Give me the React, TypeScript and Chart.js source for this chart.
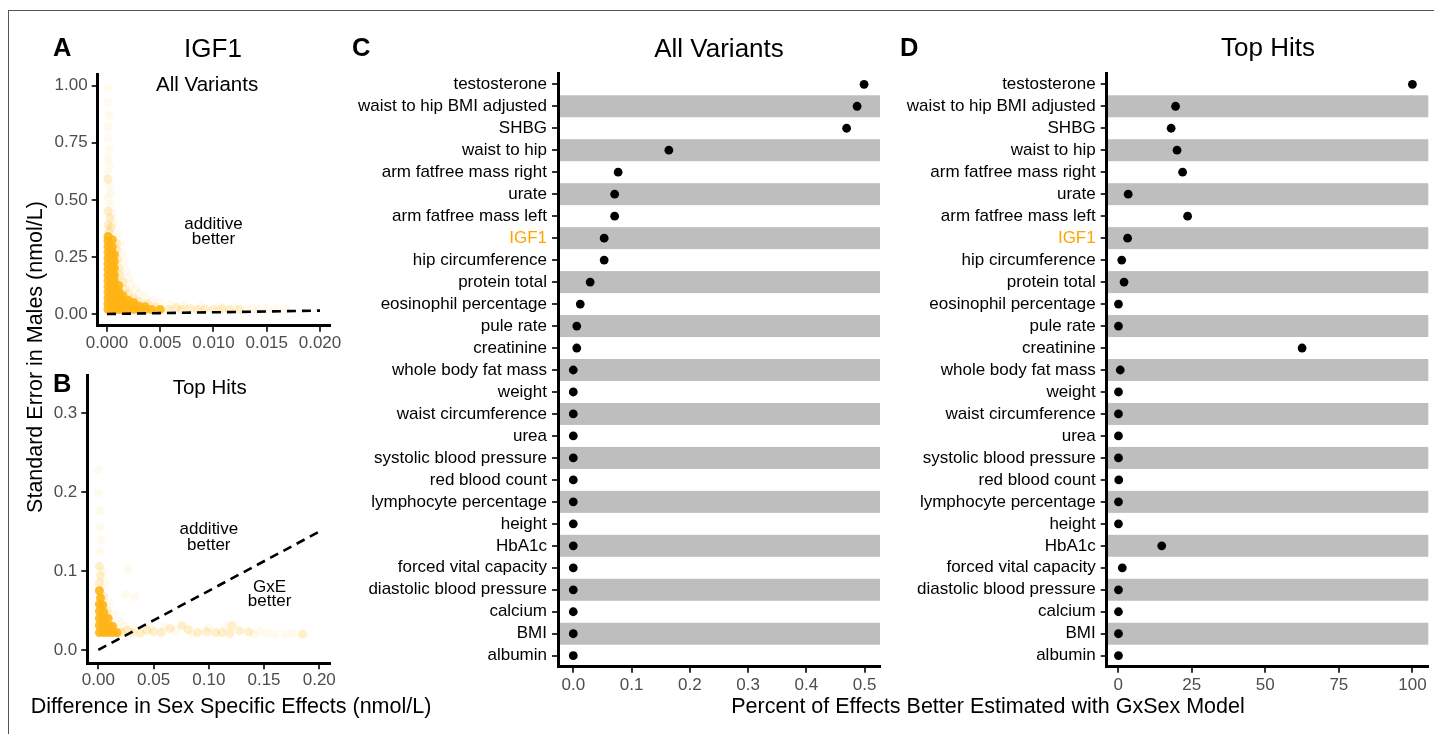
import React, { useEffect, useRef } from "react";
import { Chart, registerables } from "chart.js";
Chart.register(...registerables);

const FONT = '"Liberation Sans", Arial, Helvetica, sans-serif';
Chart.defaults.font.family = FONT;

type Pt = [number, number];

// ---------- Panel C / D data ----------
const TRAITS = [
  "testosterone", "waist to hip BMI adjusted", "SHBG", "waist to hip",
  "arm fatfree mass right", "urate", "arm fatfree mass left", "IGF1",
  "hip circumference", "protein total", "eosinophil percentage", "pule rate",
  "creatinine", "whole body fat mass", "weight", "waist circumference", "urea",
  "systolic blood pressure", "red blood count", "lymphocyte percentage", "height",
  "HbA1c", "forced vital capacity", "diastolic blood pressure", "calcium", "BMI", "albumin",
];
const ALL_VARIANTS_PCT = [
  0.499, 0.487, 0.469, 0.164, 0.077, 0.071, 0.071, 0.053, 0.053, 0.029, 0.012, 0.006,
  0.006, 0.0, 0.0, 0.0, 0.0, 0.0, 0.0, 0.0, 0.0, 0.0, 0.0, 0.0, 0.0, 0.0, 0.0,
];
const TOP_HITS_PCT = [
  100, 19.5, 18.0, 20.0, 21.9, 3.4, 23.6, 3.2, 1.2, 2.0, 0.1, 0.1,
  62.5, 0.7, 0.1, 0.1, 0.1, 0.1, 0.2, 0.1, 0.1, 14.8, 1.4, 0.1, 0.1, 0.1, 0.1,
];
const C_TICKS = [0, 0.1, 0.2, 0.3, 0.4, 0.5];
const C_TICK_LABELS = ["0.0", "0.1", "0.2", "0.3", "0.4", "0.5"];
const D_TICKS = [0, 25, 50, 75, 100];
const D_TICK_LABELS = ["0", "25", "50", "75", "100"];

// ---------- Panel A data (IGF1, all variants) ----------
const A_DENSE: Pt[] = [
  [0.0001, 0.02], [0.0001, 0.045], [0.0001, 0.07], [0.0001, 0.095], [0.0001, 0.12], [0.0001, 0.145],
  [0.0001, 0.17], [0.0001, 0.195], [0.0001, 0.22], [0.0001, 0.245], [0.0001, 0.27], [0.0001, 0.295],
  [0.0001, 0.32], [0.0001, 0.34],
  [0.0005, 0.02], [0.0005, 0.045], [0.0005, 0.07], [0.0005, 0.095], [0.0005, 0.12], [0.0005, 0.145],
  [0.0005, 0.17], [0.0005, 0.195], [0.0005, 0.22], [0.0005, 0.245], [0.0005, 0.27], [0.0005, 0.295],
  [0.0005, 0.325],
  [0.0007, 0.02], [0.0007, 0.045], [0.0007, 0.07], [0.0007, 0.095], [0.0007, 0.12], [0.0007, 0.145],
  [0.0007, 0.17], [0.0007, 0.2], [0.0007, 0.23], [0.0007, 0.26],
  [0.0011, 0.02], [0.0011, 0.04], [0.0011, 0.06], [0.0011, 0.08], [0.0011, 0.1], [0.0011, 0.125],
  [0.0015, 0.02], [0.0015, 0.04], [0.0015, 0.06], [0.0015, 0.08],
  [0.002, 0.02], [0.002, 0.04], [0.002, 0.06],
  [0.0025, 0.02], [0.0025, 0.035], [0.0025, 0.05],
  [0.003, 0.02], [0.003, 0.035],
  [0.0036, 0.02], [0.0036, 0.032],
  [0.0042, 0.02], [0.005, 0.02],
];
const A_MID: Pt[] = [
  [0.0058, 0.02], [0.0065, 0.028], [0.007, 0.02], [0.0078, 0.024], [0.0085, 0.02], [0.0092, 0.022],
  [0.01, 0.02], [0.0108, 0.023], [0.0115, 0.02], [0.0124, 0.021],
  [0.0045, 0.03], [0.0038, 0.045], [0.003, 0.055], [0.0025, 0.07], [0.002, 0.09], [0.0017, 0.11],
  [0.0015, 0.14], [0.0012, 0.17], [0.0011, 0.2], [0.001, 0.24], [0.0009, 0.28], [0.0009, 0.31],
  [0.0002, 0.36], [0.0004, 0.38], [0.0001, 0.39], [0.0003, 0.42], [0.0001, 0.45], [0.0001, 0.59],
];
const A_FAINT: Pt[] = [
  [0.013, 0.02], [0.0136, 0.026], [0.0142, 0.019], [0.015, 0.021], [0.0158, 0.023], [0.0168, 0.02],
  [0.012, 0.03], [0.0105, 0.032], [0.0088, 0.034], [0.0072, 0.037], [0.006, 0.042], [0.005, 0.05],
  [0.0043, 0.06], [0.0036, 0.075], [0.003, 0.09], [0.0027, 0.11], [0.0023, 0.13], [0.002, 0.16],
  [0.0018, 0.19], [0.0016, 0.23], [0.0014, 0.27], [0.0013, 0.31], [0.001, 0.35], [0.0006, 0.4],
  [0.0005, 0.44], [0.0003, 0.48], [0.0001, 0.51], [0.0004, 0.53], [0.0002, 0.56], [0.0001, 0.62],
  [0.0003, 0.65], [0.0001, 0.68], [0.0002, 0.72], [0.0001, 0.77], [0.0001, 0.82], [0.0002, 0.87],
  [0.0001, 0.93], [0.0001, 0.99],
];
const A_REF: Pt[] = [[0, 0], [0.02, 0.015]];
const A_X_TICKS = [0, 0.005, 0.01, 0.015, 0.02];
const A_X_LABELS = ["0.000", "0.005", "0.010", "0.015", "0.020"];
const A_Y_TICKS = [0, 0.25, 0.5, 0.75, 1];
const A_Y_LABELS = ["0.00", "0.25", "0.50", "0.75", "1.00"];

// ---------- Panel B data (IGF1, top hits) ----------
const B_DENSE: Pt[] = [
  [0.001, 0.022], [0.001, 0.031], [0.001, 0.04], [0.001, 0.049],
  [0.005, 0.022], [0.005, 0.031], [0.005, 0.04], [0.005, 0.048],
  [0.009, 0.022], [0.009, 0.031], [0.009, 0.04],
  [0.013, 0.022], [0.013, 0.03], [0.017, 0.022],
  [0.001, 0.058], [0.002, 0.066], [0.001, 0.075], [0.004, 0.057],
];
const B_MID: Pt[] = [
  [0.001, 0.085], [0.002, 0.094], [0.001, 0.106], [0.005, 0.068], [0.008, 0.05], [0.021, 0.022],
  [0.026, 0.025], [0.031, 0.022], [0.038, 0.021], [0.044, 0.025], [0.05, 0.023], [0.057, 0.022],
  [0.065, 0.027], [0.0755, 0.031], [0.0815, 0.026], [0.09, 0.022], [0.098, 0.023], [0.106, 0.022],
  [0.112, 0.022], [0.119, 0.021], [0.128, 0.0245], [0.121, 0.031], [0.136, 0.023], [0.185, 0.02],
];
const B_FAINT: Pt[] = [
  [0.024, 0.03], [0.032, 0.029], [0.018, 0.027], [0.146, 0.023], [0.153, 0.021], [0.16, 0.02],
  [0.169, 0.02], [0.176, 0.021], [0.141, 0.02], [0.027, 0.101], [0.033, 0.067], [0.025, 0.07],
  [0.0, 0.199], [0.0, 0.228], [0.001, 0.177], [0.002, 0.156], [0.003, 0.139], [0.002, 0.125],
  [0.004, 0.1], [0.006, 0.085], [0.01, 0.06], [0.015, 0.045], [0.02, 0.036], [0.06, 0.03],
  [0.1, 0.028], [0.115, 0.03], [0.07, 0.024], [0.085, 0.02], [0.047, 0.03],
];
const B_REF: Pt[] = [[0, 0], [0.2, 0.15]];
const B_X_TICKS = [0, 0.05, 0.1, 0.15, 0.2];
const B_X_LABELS = ["0.00", "0.05", "0.10", "0.15", "0.20"];
const B_Y_TICKS = [0, 0.1, 0.2, 0.3];
const B_Y_LABELS = ["0.0", "0.1", "0.2", "0.3"];

// ---------- helpers ----------
const toXY = (a: Pt[]) => a.map(([x, y]) => ({ x, y }));
const ORANGE = "255,180,20";

function numAxis(min: number, max: number, ticks: number[], labels: string[], fit: (s: any) => void, pad: number) {
  return {
    type: "linear",
    min,
    max,
    afterBuildTicks: (s: any) => { s.ticks = ticks.map((value) => ({ value })); },
    afterFit: fit,
    ticks: {
      callback: (_v: any, i: number) => labels[i],
      color: "#4D4D4D",
      font: { size: 17, family: FONT },
      padding: pad,
      autoSkip: false,
      maxRotation: 0,
      minRotation: 0,
    },
    grid: {
      display: true, drawOnChartArea: false, drawTicks: true, tickLength: 6,
      tickWidth: 2, tickColor: "#333333", lineWidth: 2, color: "#333333",
    },
    border: { display: true, color: "#000", width: 3 },
  };
}

const notesPlugin = {
  id: "notes",
  afterDatasetsDraw(chart: any, _a: any, opts: any) {
    const { ctx, scales } = chart;
    for (const n of opts.items || []) {
      ctx.save();
      ctx.font = `${n.size}px ${FONT}`;
      ctx.fillStyle = "#000";
      ctx.textAlign = "center";
      ctx.textBaseline = "middle";
      const px = scales.x.getPixelForValue(n.x);
      const py = scales.y.getPixelForValue(n.y);
      n.lines.forEach((t: string, i: number) => {
        ctx.fillText(t, px, py + (i - (n.lines.length - 1) / 2) * n.lh);
      });
      ctx.restore();
    }
  },
};

const bandPlugin = {
  id: "bands",
  beforeDraw(chart: any) {
    const { ctx, chartArea: a, scales } = chart;
    const y = scales.y;
    const step = Math.abs(y.getPixelForValue(1) - y.getPixelForValue(0));
    ctx.save();
    ctx.fillStyle = "#BEBEBE";
    for (let i = 1; i < TRAITS.length; i += 2) {
      const c = y.getPixelForValue(i);
      ctx.fillRect(a.left, c - step / 2, a.right - a.left, step);
    }
    ctx.restore();
  },
};

function scatterConfig(p: any) {
  return {
    type: "scatter",
    data: {
      datasets: [
        { type: "line", data: toXY(p.ref), borderColor: "#000", borderWidth: 2.6, borderDash: [9, 6],
          pointRadius: 0, showLine: true, fill: false, order: 0 },
        { data: toXY(p.faint), backgroundColor: `rgba(${ORANGE},0.07)`, pointRadius: 4.5, borderWidth: 0, order: 3 },
        { data: toXY(p.mid), backgroundColor: `rgba(${ORANGE},0.22)`, pointRadius: 4.5, borderWidth: 0, order: 2 },
        { data: toXY(p.dense), backgroundColor: `rgba(${ORANGE},0.9)`, pointRadius: 4.5, borderWidth: 0, order: 1 },
      ],
    },
    options: {
      responsive: false,
      animation: false,
      layout: { padding: { top: p.padTop, right: p.padRight, left: 0, bottom: 0 } },
      plugins: { legend: { display: false }, tooltip: { enabled: false }, notes: { items: p.notes } },
      scales: {
        x: numAxis(p.xmin, p.xmax, p.xt, p.xl, (s: any) => { s.height = p.xh; }, 1),
        y: numAxis(p.ymin, p.ymax, p.yt, p.yl, (s: any) => { s.width = p.yw; }, 4),
      },
    },
    plugins: [notesPlugin],
  };
}

function dotConfig(values: number[], p: any) {
  return {
    type: "line",
    data: {
      labels: TRAITS,
      datasets: [{ data: values, showLine: false, pointRadius: 4.4, pointBackgroundColor: "#000",
        pointBorderWidth: 0, borderColor: "#000" }],
    },
    options: {
      indexAxis: "y",
      responsive: false,
      animation: false,
      layout: { padding: { top: p.padTop, right: p.padRight, left: 0, bottom: 0 } },
      plugins: { legend: { display: false }, tooltip: { enabled: false } },
      scales: {
        x: numAxis(p.xmin, p.xmax, p.xt, p.xl, (s: any) => { s.height = p.xh; }, 2),
        y: {
          type: "category",
          offset: true,
          afterFit: (s: any) => { s.width = p.yw; },
          ticks: {
            color: (c: any) => (TRAITS[c.index] === "IGF1" ? "#FFA500" : "#000"),
            font: { size: 17, family: FONT },
            padding: 5,
            autoSkip: false,
          },
          grid: { display: true, drawOnChartArea: false, drawTicks: true, tickLength: 6, tickWidth: 2,
            tickColor: "#333333", lineWidth: 2, color: "#333333", offset: false },
          border: { display: true, color: "#000", width: 3 },
        },
      },
    },
    plugins: [bandPlugin],
  };
}

function ChartCanvas({ left, top, width, height, make }: any) {
  const ref = useRef<HTMLCanvasElement>(null);
  useEffect(() => {
    const chart = new Chart(ref.current as HTMLCanvasElement, make() as any);
    return () => chart.destroy();
  }, []);
  return (
    <canvas ref={ref} width={width} height={height}
      style={{ position: "absolute", left, top, width, height }} />
  );
}

function Txt({ x, y, size, children, bold, anchor = "center", rotate = false, color = "#000" }: any) {
  const tx = anchor === "left" ? "0" : "-50%";
  return (
    <div style={{
      position: "absolute", left: x, top: y, fontSize: size, lineHeight: 1, whiteSpace: "nowrap",
      fontWeight: bold ? "bold" : "normal", color, fontFamily: FONT,
      transform: `translate(${tx},-50%)${rotate ? " rotate(-90deg)" : ""}`,
    }}>{children}</div>
  );
}

export default function App() {
  return (
    <div style={{ position: "fixed", left: 0, top: 0, width: 1434, height: 734, overflow: "hidden", background: "#fff" }}>
      <div style={{ position: "absolute", left: 8, top: 9.5, width: 1480, height: 800, border: "1px solid #555", boxSizing: "border-box" }} />

      <ChartCanvas left={0} top={40} width={350} height={320} make={() => scatterConfig({
        dense: A_DENSE, mid: A_MID, faint: A_FAINT, ref: A_REF,
        xmin: -0.00087, xmax: 0.02094, ymin: -0.0512, ymax: 1.0512,
        xt: A_X_TICKS, xl: A_X_LABELS, yt: A_Y_TICKS, yl: A_Y_LABELS,
        padTop: 34, padRight: 20, yw: 97.7, xh: 34.3,
        notes: [
          { lines: ["All Variants"], x: 0.0094, y: 1.0, size: 20.5, lh: 0 },
          { lines: ["additive", "better"], x: 0.01, y: 0.361, size: 17, lh: 15 },
        ],
      })} />

      <ChartCanvas left={0} top={350} width={350} height={345} make={() => scatterConfig({
        dense: B_DENSE, mid: B_MID, faint: B_FAINT, ref: B_REF,
        xmin: -0.00995, xmax: 0.2097, ymin: -0.0169, ymax: 0.3485,
        xt: B_X_TICKS, xl: B_X_LABELS, yt: B_Y_TICKS, yl: B_Y_LABELS,
        padTop: 25, padRight: 20, yw: 87.3, xh: 31.7,
        notes: [
          { lines: ["Top Hits"], x: 0.1008, y: 0.3317, size: 20.5, lh: 0 },
          { lines: ["additive", "better"], x: 0.1, y: 0.1426, size: 17, lh: 16 },
          { lines: ["GxE", "better"], x: 0.155, y: 0.07, size: 17, lh: 14 },
        ],
      })} />

      <ChartCanvas left={340} top={40} width={548} height={694} make={() => dotConfig(ALL_VARIANTS_PCT, {
        xmin: -0.0262, xmax: 0.5263, xt: C_TICKS, xl: C_TICK_LABELS,
        padTop: 33.3, padRight: 8, yw: 218, xh: 67.3,
      })} />

      <ChartCanvas left={890} top={40} width={544} height={694} make={() => dotConfig(TOP_HITS_PCT, {
        xmin: -3.9, xmax: 105.4, xt: D_TICKS, xl: D_TICK_LABELS,
        padTop: 33.3, padRight: 5.7, yw: 216.7, xh: 67.3,
      })} />

      <Txt x={53} y={48} size={25.5} bold anchor="left">A</Txt>
      <Txt x={213} y={48} size={26}>IGF1</Txt>
      <Txt x={53} y={384} size={25.5} bold anchor="left">B</Txt>
      <Txt x={352} y={48} size={25.5} bold anchor="left">C</Txt>
      <Txt x={719} y={48} size={26}>All Variants</Txt>
      <Txt x={900} y={48} size={25.5} bold anchor="left">D</Txt>
      <Txt x={1268} y={47} size={26}>Top Hits</Txt>
      <Txt x={36} y={356.5} size={21.5} rotate>Standard Error in Males (nmol/L)</Txt>
      <Txt x={231} y={707} size={21.5}>Difference in Sex Specific Effects (nmol/L)</Txt>
      <Txt x={988} y={707} size={21.5}>Percent of Effects Better Estimated with GxSex Model</Txt>
    </div>
  );
}
